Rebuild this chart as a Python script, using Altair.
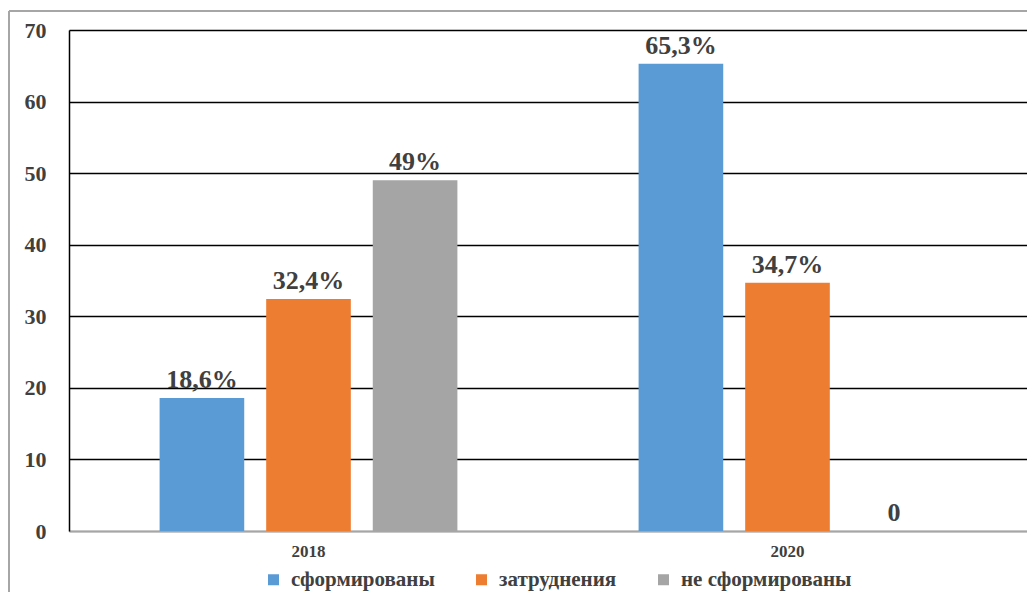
import altair as alt
import pandas as pd

years = ["2018", "2018", "2018", "2020", "2020", "2020"]
categories = ["сформированы", "затруднения", "не сформированы"] * 2
values = [18.6, 32.4, 49.0, 65.3, 34.7, 0.0]
labels = ["18,6%", "32,4%", "49%", "65,3%", "34,7%", "0"]
cat_order = ["сформированы", "затруднения", "не сформированы"]
colors = ["#5B9BD5", "#ED7D31", "#A5A5A5"]

df = pd.DataFrame({"year": years, "cat": categories, "value": values, "label": labels})

FONT = "Liberation Serif"
TXT = "#404040"

x = alt.X("year:N", title=None,
          scale=alt.Scale(paddingInner=0, paddingOuter=0),
          axis=alt.Axis(labelAngle=0, ticks=False, labelFontSize=17, labelFont=FONT,
                        labelFontWeight="bold", labelColor=TXT, labelPadding=12,
                        domainColor="#a6a6a6", domainWidth=2))
xo = alt.XOffset("cat:N", sort=cat_order,
                 scale=alt.Scale(paddingInner=0.206, paddingOuter=0.85))
y = alt.Y("value:Q", title=None,
          scale=alt.Scale(domain=[0, 70], nice=False),
          axis=alt.Axis(values=list(range(0, 71, 10)), ticks=False, labelFontSize=22,
                        labelFont=FONT, labelFontWeight="bold", labelColor=TXT,
                        labelPadding=23, domainColor="black", domainWidth=1.5,
                        gridColor={"condition": {"test": "datum.value === 0", "value": "#a6a6a6"}, "value": "black"},
                        gridWidth=1.5))

bars = alt.Chart(df).mark_bar().encode(
    x=x, xOffset=xo, y=y,
    color=alt.Color("cat:N", sort=cat_order,
                    scale=alt.Scale(domain=cat_order, range=colors),
                    legend=alt.Legend(title=None, orient="none", direction="horizontal",
                                      legendX=194, legendY=539, symbolType="square",
                                      symbolSize=121, symbolStrokeWidth=0,
                                      labelFont=FONT, labelFontSize=21, labelFontWeight="bold",
                                      labelColor=TXT, labelOffset=7, columnPadding=36,
                                      labelLimit=400)),
)

text = alt.Chart(df).mark_text(font=FONT, fontSize=26, fontWeight="bold", color=TXT,
                               baseline="alphabetic", dy=-10).encode(
    x=x, xOffset=xo, y=y, text="label:N")

frame_left = alt.Chart(pd.DataFrame({"a": [0]})).mark_rule(color="#a6a6a6", strokeWidth=2, clip=False).encode(
    x=alt.value(-60), y=alt.value(-19), y2=alt.value(562))
frame_top = alt.Chart(pd.DataFrame({"a": [0]})).mark_rule(color="#a6a6a6", strokeWidth=2, clip=False).encode(
    x=alt.value(-60), x2=alt.value(958), y=alt.value(-19))

chart = alt.layer(frame_left, frame_top, bars, text).properties(
    width=958, height=501,
    autosize=alt.AutoSizeParams(type="none"),
    padding={"left": 61, "top": 22, "right": 0, "bottom": 61},
).configure_view(stroke="#a6a6a6", strokeWidth=2).configure(background="white", font=FONT)

chart.save("out.html", embed_options={"renderer": "svg", "actions": False})
